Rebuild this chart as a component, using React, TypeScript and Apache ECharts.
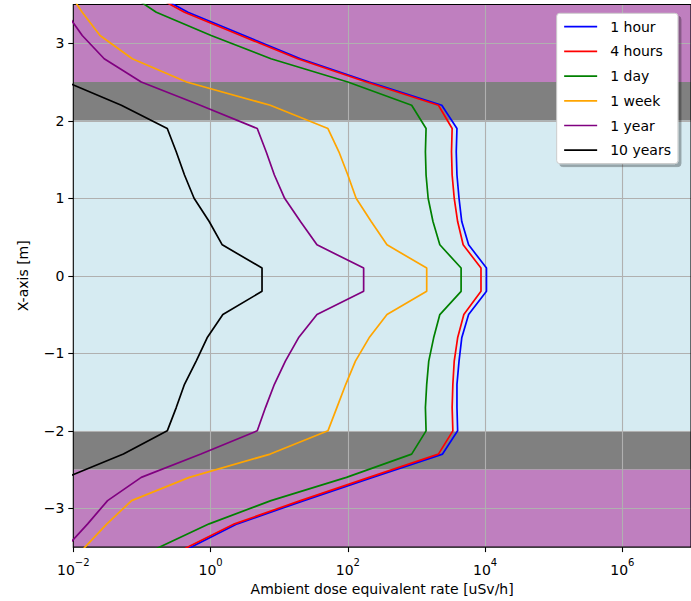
import React, { useEffect, useRef } from 'react';
import * as echarts from 'echarts';

// Positions along the X-axis [m] (plotted vertically)
const positions = [-3.8, -3.5, -3.2, -2.9, -2.6, -2.3, -2.0, -1.7, -1.4, -1.1, -0.8, -0.5, -0.2, 0.1, 0.4, 0.7, 1.0, 1.3, 1.6, 1.9, 2.2, 2.5, 2.8, 3.1, 3.4, 3.7];

const seriesNames = ['1 hour', '4 hours', '1 day', '1 week', '1 year', '10 years'];
const seriesColors = ['#0000ff', '#ff0000', '#008000', '#ffa500', '#800080', '#000000'];

// Ambient dose equivalent rate [uSv/h]
const dose1Hour = [0.112, 0.525, 2.45, 22.9, 229, 2400, 3980, 3890, 3890, 4170, 4570, 5750, 10470, 10470, 5750, 4570, 4170, 3890, 3800, 3890, 2340, 204, 20.4, 3.09, 0.468, 0.112];
const dose4Hours = [0.1, 0.468, 2.24, 20.4, 204, 2090, 3390, 3310, 3390, 3550, 3980, 4900, 8710, 8710, 4790, 3980, 3550, 3310, 3240, 3310, 2090, 186, 18.6, 2.75, 0.417, 0.1];
const dose1Day = [0.0355, 0.182, 0.955, 7.59, 95.5, 851, 1380, 1350, 1410, 1510, 1780, 2190, 4470, 4470, 2190, 1740, 1480, 1380, 1350, 1380, 851, 100, 7.59, 1.02, 0.162, 0.0501];
const dose1Week = [0.00794, 0.0148, 0.0309, 0.0708, 0.49, 7.41, 51.3, 69.2, 93.3, 129, 204, 372, 1410, 1410, 372, 219, 132, 100, 74.1, 51.3, 7.41, 0.447, 0.0724, 0.0245, 0.0135, 0.00794];
const dose1Year = [0.00398, 0.00794, 0.0162, 0.0316, 0.0977, 0.724, 4.79, 6.31, 8.51, 12.3, 19.1, 35.5, 170, 170, 35.5, 20.4, 12.0, 8.51, 6.46, 4.79, 0.708, 0.0977, 0.0282, 0.0135, 0.00776, 0.00398];
const dose10Years = [1.26e-5, 6.31e-5, 3.16e-4, 1.58e-3, 7.94e-3, 0.0537, 0.234, 0.316, 0.417, 0.617, 0.891, 1.51, 5.62, 5.62, 1.48, 0.955, 0.575, 0.417, 0.316, 0.234, 0.0501, 7.94e-3, 1.58e-3, 3.16e-4, 6.31e-5, 1.26e-5];

const doseSeries = [dose1Hour, dose4Hours, dose1Day, dose1Week, dose1Year, dose10Years];

// Shaded regions along the X-axis [m]
const bandFrom = [2.5, -3.5, 2.0, -2.5, -2.0];
const bandTo = [3.5, -2.5, 2.5, -2.0, 2.0];
const bandColors = ['#bf7fbf', '#bf7fbf', '#808080', '#808080', '#d6ebf2'];

const xMin = 0.01;
const xMax = 1e7;
const yMin = -3.5;
const yMax = 3.5;

const FONT = 'DejaVu Sans';

function fmtMinus(n: number): string {
  return n < 0 ? '\u2212' + String(-n) : String(n);
}

export default function App() {
  const ref = useRef<HTMLDivElement>(null);

  useEffect(() => {
    if (!ref.current) return;
    const chart = echarts.init(ref.current, null, { renderer: 'svg' });
    const option: any = {
      animation: false,
      backgroundColor: '#ffffff',
      textStyle: { fontFamily: FONT },
      grid: {
        left: 73.3,
        top: 4.5,
        width: 621.5,
        height: 544.4,
        show: true,
        z: 3,
        borderColor: '#000000',
        borderWidth: 1.1,
        backgroundColor: 'transparent',
      },
      legend: {
        data: seriesNames,
        orient: 'vertical',
        left: 556.7,
        top: 13.3,
        itemWidth: 33,
        itemHeight: 14,
        itemGap: 10.7,
        padding: [6.4, 7, 6.4, 6.6],
        backgroundColor: '#ffffff',
        borderColor: '#cccccc',
        borderWidth: 1,
        borderRadius: 3,
        shadowColor: 'rgba(0,0,0,0.3)',
        shadowOffsetX: 3,
        shadowOffsetY: 3,
        shadowBlur: 0,
        z: 10,
        itemStyle: { opacity: 0 },
        lineStyle: { width: 1.7 },
        textStyle: { fontFamily: FONT, fontSize: 14, color: '#000000', padding: [0, 0, 0, 8] },
      },
      xAxis: {
        type: 'log',
        logBase: 100,
        min: xMin,
        max: xMax,
        name: 'Ambient dose equivalent rate [uSv/h]',
        nameLocation: 'middle',
        nameGap: 32,
        nameTextStyle: { fontFamily: FONT, fontSize: 14, color: '#000000' },
        axisLine: { show: false, onZero: false },
        axisTick: { show: true, length: 5, lineStyle: { color: '#000000', width: 1.1 } },
        minorTick: { show: false },
        splitLine: { show: true, showMinLine: false, showMaxLine: false, lineStyle: { color: '#b0b0b0', width: 1.1 } },
        axisLabel: {
          showMaxLabel: false,
          margin: 10,
          formatter: (v: number) => {
            const e = Math.round(Math.log10(v));
            return '{b|10}{s|' + fmtMinus(e) + '}';
          },
          rich: {
            b: { fontFamily: FONT, fontSize: 14, color: '#000000', lineHeight: 20, verticalAlign: 'bottom' },
            s: { fontFamily: FONT, fontSize: 10, color: '#000000', lineHeight: 12, verticalAlign: 'top' },
          },
        },
      },
      yAxis: {
        type: 'value',
        min: yMin,
        max: yMax,
        splitNumber: 7,
        name: 'X-axis [m]',
        nameLocation: 'middle',
        nameGap: 43,
        nameTextStyle: { fontFamily: FONT, fontSize: 14, color: '#000000' },
        axisLine: { show: false, onZero: false },
        axisTick: { show: true, length: 5, lineStyle: { color: '#000000', width: 1.1 } },
        splitLine: { show: true, showMinLine: false, showMaxLine: false, lineStyle: { color: '#b0b0b0', width: 1.1 } },
        axisLabel: {
          showMinLabel: false,
          showMaxLabel: false,
          margin: 9,
          fontFamily: FONT,
          fontSize: 14,
          color: '#000000',
          formatter: (v: number) => fmtMinus(v),
        },
      },
      series: seriesNames.map((name, i) => ({
        name,
        type: 'line',
        data: doseSeries[i].map((v, j) => [v, positions[j]]),
        symbol: 'none',
        showSymbol: false,
        clip: true,
        lineStyle: { color: seriesColors[i], width: 1.7 },
        itemStyle: { color: seriesColors[i] },
        markArea: i === 0
          ? {
              silent: true,
              z: -1,
              label: { show: false },
              data: bandFrom.map((f, k) => [
                { yAxis: f, itemStyle: { color: bandColors[k], opacity: 1 } },
                { yAxis: bandTo[k] },
              ]),
            }
          : undefined,
      })),
    };
    chart.setOption(option);
    return () => chart.dispose();
  }, []);

  return (
    <div
      ref={ref}
      style={{ position: 'fixed', left: 0, top: 0, width: 691, height: 601, background: '#ffffff' }}
    />
  );
}
